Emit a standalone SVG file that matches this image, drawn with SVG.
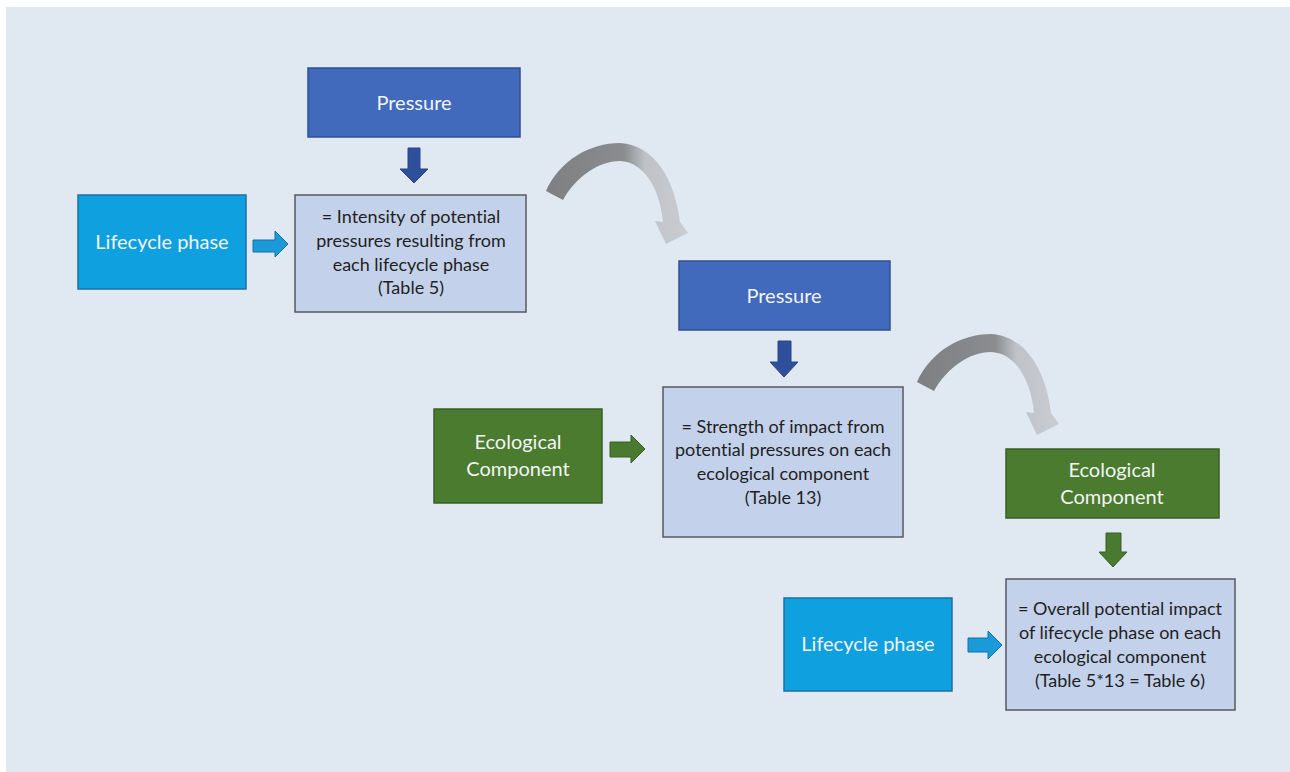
<svg xmlns="http://www.w3.org/2000/svg" width="1290" height="772" viewBox="0 0 1290 772">
<defs>
<linearGradient id="curveGrad" x1="0" y1="0" x2="1" y2="0">
<stop offset="0" stop-color="#7d7f82"/>
<stop offset="0.55" stop-color="#8a8c8f"/>
<stop offset="0.7" stop-color="#bfc3c8"/>
<stop offset="1" stop-color="#c9cdd2"/>
</linearGradient>
<path id="curve" d="M 546,191 C 560,160 590,143 620,143 C 655,145 675,180 680,222 L 688,233 L 666,244 L 655,221 L 663,222 C 660,190 645,162 620,161 C 598,161 575,178 563,200 Z"/>
</defs>
<style>
.pressure{fill:#4169bc;stroke:#2f528f;stroke-width:1.5}
.life{fill:#0fa0df;stroke:#1b6fa6;stroke-width:1.5}
.eco{fill:#4b7b2f;stroke:#3a5e24;stroke-width:1.5}
.res{fill:#c3d2ea;stroke:#555a60;stroke-width:1.5}
text{font-variant-ligatures:none}
.wt{font-family:Lato,"Liberation Sans",sans-serif;font-size:20px;fill:#f2f4f6;text-anchor:middle}
.bt{font-family:Lato,"Liberation Sans",sans-serif;font-size:18px;fill:#1f1f1f;text-anchor:middle}
.darr{fill:#2e4f9c;stroke:#2a4686;stroke-width:1}
.barr{fill:#1a9ad8;stroke:#1570a8;stroke-width:1}
.garr{fill:#4a7a2f;stroke:#3a5e24;stroke-width:1}
</style>
<rect x="0" y="0" width="1290" height="772" fill="#ffffff"/>
<rect x="6" y="7" width="1284" height="765" fill="#e0e9f2"/>

<g id="pressure1">
<rect class="pressure" x="308" y="68" width="212" height="69"/>
<text class="wt" x="414" y="110">Pressure</text>
</g>
<g id="lifecycle1">
<rect class="life" x="78" y="195" width="168" height="94"/>
<text class="wt" x="162" y="249">Lifecycle phase</text>
</g>
<g id="result1">
<rect class="res" x="295" y="195" width="231" height="117"/>
<text class="bt" x="411" y="223">= Intensity of potential</text>
<text class="bt" x="411" y="247">pressures resulting from</text>
<text class="bt" x="411" y="271">each lifecycle phase</text>
<text class="bt" x="411" y="294">(Table 5)</text>
</g>
<g id="pressure2">
<rect class="pressure" x="679" y="261" width="211" height="69"/>
<text class="wt" x="784" y="303">Pressure</text>
</g>
<g id="ecological1">
<rect class="eco" x="434" y="409" width="168" height="94"/>
<text class="wt" x="518" y="449">Ecological</text>
<text class="wt" x="518" y="476">Component</text>
</g>
<g id="result2">
<rect class="res" x="663" y="387" width="240" height="150"/>
<text class="bt" x="783" y="433">= Strength of impact from</text>
<text class="bt" x="783" y="456">potential pressures on each</text>
<text class="bt" x="783" y="480">ecological component</text>
<text class="bt" x="783" y="504">(Table 13)</text>
</g>
<g id="ecological2">
<rect class="eco" x="1006" y="449" width="213" height="69"/>
<text class="wt" x="1112" y="477">Ecological</text>
<text class="wt" x="1112" y="504">Component</text>
</g>
<g id="lifecycle2">
<rect class="life" x="784" y="598" width="168" height="93"/>
<text class="wt" x="868" y="651">Lifecycle phase</text>
</g>
<g id="result3">
<rect class="res" x="1006" y="579" width="229" height="131"/>
<text class="bt" x="1120" y="615">= Overall potential impact</text>
<text class="bt" x="1120" y="639">of lifecycle phase on each</text>
<text class="bt" x="1120" y="663">ecological component</text>
<text class="bt" x="1120" y="687">(Table 5*13 = Table 6)</text>
</g>

<g id="connectors">
<polygon class="darr" points="408,148 420,148 420,169 428,169 414,183 400,169 408,169"/>
<polygon class="barr" points="253,240 275,240 275,231 288,244 275,257 275,252 253,252"/>
<polygon class="darr" points="778,341 791,341 791,362 798,362 784,377 770,362 778,362"/>
<polygon class="garr" points="610,442 631,442 631,435 645,449 631,463 631,457 610,457"/>
<polygon class="garr" points="1106,533 1121,533 1121,552 1127,552 1113,567 1099,552 1106,552"/>
<polygon class="barr" points="968,638 988,638 988,631 1002,645 988,659 988,652 968,652"/>
<use href="#curve" fill="url(#curveGrad)"/>
<use href="#curve" fill="url(#curveGrad)" transform="translate(371,191)"/>
</g>
</svg>
